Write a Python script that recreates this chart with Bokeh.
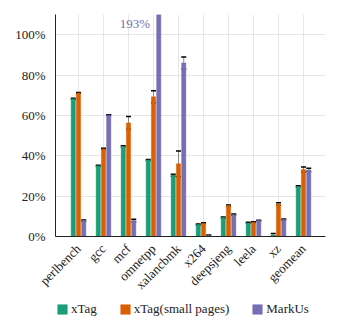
import math
from bokeh.plotting import figure
from bokeh.layouts import column
from bokeh.models import (ColumnDataSource, Range1d, FixedTicker, PrintfTickFormatter,
                          Whisker, TeeHead, Legend, LegendItem, Label)
from bokeh.embed import file_html
from bokeh.resources import INLINE

cats = ["perlbench", "gcc", "mcf", "omnetpp", "xalancbmk", "x264", "deepsjeng", "leela", "xz", "geomean"]
xtag = [68.2, 35.0, 44.7, 37.9, 30.4, 5.9, 9.4, 6.7, 0.8, 24.8]
xtag_err = [0.3, 0.3, 0.3, 0.3, 0.5, 0.3, 0.3, 0.3, 0.7, 0.3]
xtag_small = [71.1, 43.4, 56.3, 69.2, 36.0, 6.6, 15.3, 7.1, 16.1, 33.2]
xtag_small_err = [0.3, 0.3, 3.2, 3.0, 6.4, 0.2, 0.3, 0.2, 0.6, 1.2]
markus = [7.9, 60.1, 7.9, 193.0, 86.0, 0.5, 10.8, 7.9, 8.4, 33.0]
markus_err = [0.3, 0.2, 0.6, 0.0, 3.0, 0.2, 0.3, 0.2, 0.3, 0.8]
y_ticks = [0, 20, 40, 60, 80, 100]

series = [("xTag", xtag, xtag_err, "#1b9e77"),
          ("xTag(small pages)", xtag_small, xtag_small_err, "#d95f02"),
          ("MarkUs", markus, markus_err, "#7570b3")]
offsets = [-0.21, 0.0, 0.21]

FONT = "Liberation Serif"
idx = list(range(len(cats)))

p = figure(width=335, height=300, output_backend="svg", toolbar_location=None,
           x_range=Range1d(-0.92, 9.88), y_range=Range1d(0, 110),
           min_border_left=55, min_border_top=14, min_border_right=10,
           min_border_bottom=62)
p.outline_line_color = None
p.background_fill_color = "white"

for (name, vals, errs, col), off in zip(series, offsets):
    src = ColumnDataSource(dict(
        x=[i + off for i in idx], top=vals,
        lo=[v - e for v, e in zip(vals, errs)],
        hi=[v + e for v, e in zip(vals, errs)]))
    p.vbar(x="x", top="top", width=0.17, source=src, fill_color=col,
           line_color=col, line_alpha=0.45, line_width=1)
    w = Whisker(base="x", lower="lo", upper="hi", source=src,
                line_color="#888888", line_width=1,
                upper_head=TeeHead(size=5, line_color="black", line_width=1.5),
                lower_head=TeeHead(size=5, line_color="black", line_width=1.5))
    p.add_layout(w)

# annotation for clipped bar
k = cats.index("omnetpp")
p.add_layout(Label(x=k + offsets[2] - 0.35, y=105.3, text=f"{markus[k]:.0f}%",
                   text_align="right", text_baseline="middle",
                   text_color="#7570b3", text_font=FONT, text_font_size="13px"))

p.xaxis.ticker = FixedTicker(ticks=idx)
p.xaxis.major_label_overrides = {i: c for i, c in enumerate(cats)}
p.xaxis.major_label_orientation = math.pi / 4
p.yaxis.ticker = FixedTicker(ticks=y_ticks)
p.yaxis.formatter = PrintfTickFormatter(format="%d%%")
for ax in (p.xaxis, p.yaxis):
    ax.major_label_text_font = FONT
    ax.major_label_text_font_size = "13px"
    ax.major_label_text_color = "#222222"
    ax.major_tick_line_color = None
    ax.minor_tick_line_color = None
    ax.axis_line_color = "#222222"
    ax.axis_line_width = 1
    ax.major_label_standoff = 4
p.xgrid.grid_line_color = "#e6e6e6"
p.ygrid.grid_line_color = "#e6e6e6"

# legend strip below the chart (proxy bars sit outside its visible range)
lf = figure(width=335, height=31, output_backend="svg", toolbar_location=None,
            x_range=Range1d(0, 1), y_range=Range1d(0, 1),
            min_border_left=55, min_border_right=10,
            min_border_top=0, min_border_bottom=0)
lf.axis.visible = False
lf.grid.visible = False
lf.outline_line_color = None
items = []
for name, vals, errs, col in series:
    r = lf.vbar(x=[-5], top=[0], width=0.1, fill_color=col, line_color=col,
                line_alpha=0.45)
    items.append(LegendItem(label=name, renderers=[r]))
legend = Legend(items=items, orientation="horizontal", location=(1, 14),
                label_text_font=FONT, label_text_font_size="13px",
                label_text_color="#222222",
                glyph_width=12, glyph_height=12, spacing=22, padding=0,
                margin=0, label_standoff=3,
                border_line_alpha=0, background_fill_alpha=0)
lf.add_layout(legend, "center")

layout = column(p, lf, spacing=0)
open("out.html", "w").write(file_html(layout, INLINE))
